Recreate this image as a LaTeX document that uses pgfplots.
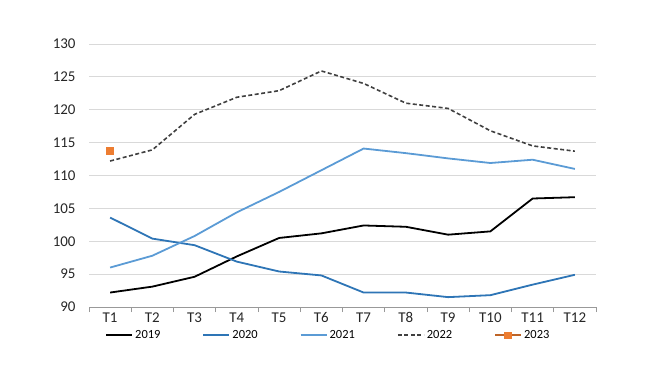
\documentclass[border=0pt]{standalone}
\usepackage{fontspec}
\setmainfont{Carlito}
\usepackage{pgfplots}
\pgfplotsset{compat=1.18}
\definecolor{c2020}{HTML}{2E75B6}
\definecolor{c2021}{HTML}{5B9BD5}
\definecolor{c2022}{HTML}{404040}
\definecolor{c2023}{HTML}{ED7D31}
\definecolor{gridc}{HTML}{D9D9D9}
\pgfplotsset{lineandmark/.style={legend image code/.code={\draw[##1, line width=2bp] (0bp,0bp) -- (26bp,0bp); \draw[##1] plot coordinates {(13bp,0bp)};}}}
\begin{document}
\begin{tikzpicture}
\path[use as bounding box] (-89bp,-59bp) rectangle (561bp,307bp);
\begin{axis}[
  at={(0,0)}, anchor=south west,
  scale only axis, width=507bp, height=263bp,
  xmin=0.5, xmax=12.5, ymin=90, ymax=130,
  xtick={1,...,12},
  xticklabels={T1,T2,T3,T4,T5,T6,T7,T8,T9,T10,T11,T12},
  minor xtick={0.5,1.5,...,12.5},
  ytick={90,95,...,130},
  /pgf/number format/assume math mode=true,
  axis x line*=bottom, axis y line*=left,
  x axis line style={draw=gray!80, line width=0.8bp, -},
  y axis line style={draw=none},
  major tick length=0pt, minor tick length=5bp,
  tick align=outside,
  minor tick style={draw=gray!80, line width=0.8bp},
  major tick style={draw=none},
  ymajorgrids, major grid style={draw=gridc, line width=0.8bp},
  every tick label/.append style={font=\fontsize{15}{18}\selectfont, text=black!85},
  yticklabel style={xshift=-10bp},
  xticklabel style={yshift=-2bp},
  legend columns=5,
  legend style={draw=none, fill=none, at={(0.472,-0.108)}, anchor=center,
    font=\fontsize{12.5}{14}\selectfont, /tikz/every even column/.append style={column sep=40bp}},
  legend cell align=left,
  legend image code/.code={\draw[#1, line width=2bp] (0bp,0bp) -- (26bp,0bp);},
]
\addplot[black, line width=1.8bp] coordinates {(1,92.2)(2,93.1)(3,94.6)(4,97.7)(5,100.5)(6,101.2)(7,102.4)(8,102.2)(9,101.0)(10,101.5)(11,106.5)(12,106.7)};
\addlegendentry{2019}
\addplot[c2020, line width=1.8bp] coordinates {(1,103.6)(2,100.4)(3,99.4)(4,96.9)(5,95.4)(6,94.8)(7,92.2)(8,92.2)(9,91.5)(10,91.8)(11,93.4)(12,94.9)};
\addlegendentry{2020}
\addplot[c2021, line width=1.8bp] coordinates {(1,96.0)(2,97.8)(3,100.8)(4,104.4)(5,107.5)(6,110.8)(7,114.1)(8,113.4)(9,112.6)(10,111.9)(11,112.4)(12,111.0)};
\addlegendentry{2021}
\addplot[c2022, line width=1.6bp, dash pattern=on 4bp off 2.5bp] coordinates {(1,112.2)(2,113.9)(3,119.3)(4,121.9)(5,122.9)(6,125.9)(7,124.0)(8,121.0)(9,120.2)(10,116.8)(11,114.5)(12,113.7)};
\addlegendentry{2022}
\addplot[c2023!80!black, line width=1.6bp, mark=square*, mark size=3bp, mark options={fill=c2023, draw=c2023, solid}, lineandmark] coordinates {(1,113.7)};
\addlegendentry{2023}
\end{axis}
\end{tikzpicture}
\end{document}
